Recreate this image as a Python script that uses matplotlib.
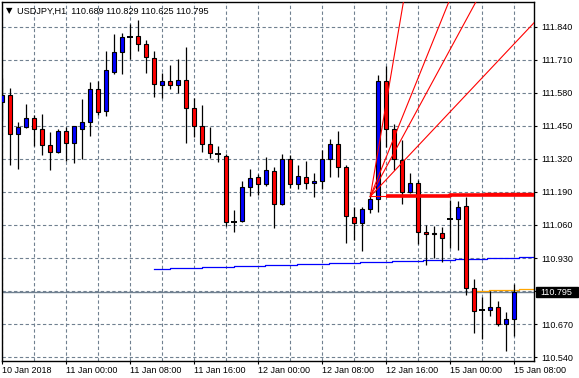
import matplotlib
matplotlib.use('Agg')
import matplotlib.pyplot as plt
import matplotlib.transforms as mtransforms
from matplotlib.patches import Rectangle

plt.rcParams['font.family'] = ['Liberation Sans', 'DejaVu Sans']

symbol = "USDJPY,H1"

opens = [111.543, 111.571, 111.417, 111.444, 111.480, 111.436, 111.373, 111.348, 111.428, 111.384,
         111.439, 111.464, 111.595, 111.510, 111.663, 111.739, 111.801, 111.803, 111.771, 111.716,
         111.609, 111.625, 111.609, 111.630, 111.519, 111.450, 111.377, 111.339, 111.332, 111.073,
         111.077, 111.208, 111.249, 111.220, 111.272, 111.141, 111.318, 111.220, 111.247, 111.224,
         111.232, 111.318, 111.377, 111.287, 111.090, 111.069, 111.121, 111.161, 111.628, 111.436,
         111.315, 111.191, 111.226, 111.033, 111.029, 111.028, 111.082, 111.085, 111.134, 110.811,
         110.725, 110.724, 110.736, 110.669, 110.689]
highs = [111.639, 111.600, 111.464, 111.536, 111.493, 111.496, 111.427, 111.437, 111.447, 111.450,
         111.556, 111.621, 111.626, 111.744, 111.811, 111.814, 111.849, 111.866, 111.788, 111.744,
         111.657, 111.689, 111.712, 111.759, 111.558, 111.532, 111.447, 111.371, 111.339, 111.119,
         111.234, 111.280, 111.260, 111.326, 111.287, 111.338, 111.335, 111.295, 111.312, 111.263,
         111.355, 111.398, 111.430, 111.295, 111.132, 111.132, 111.191, 111.650, 111.685, 111.456,
         111.394, 111.263, 111.237, 111.060, 111.056, 111.053, 111.158, 111.155, 111.170, 110.847,
         110.778, 110.800, 110.761, 110.719, 110.829]
lows = [111.469, 111.296, 111.280, 111.440, 111.371, 111.335, 111.276, 111.342, 111.313, 111.305,
        111.318, 111.411, 111.493, 111.490, 111.655, 111.655, 111.712, 111.746, 111.659, 111.565,
        111.561, 111.594, 111.578, 111.384, 111.405, 111.348, 111.325, 111.309, 111.057, 111.033,
        111.070, 111.175, 111.178, 111.213, 111.049, 111.138, 111.206, 111.200, 111.200, 111.169,
        111.201, 111.250, 111.247, 110.988, 111.001, 110.959, 111.106, 111.110, 111.365, 111.276,
        111.142, 111.184, 110.985, 110.902, 110.929, 110.915, 110.969, 110.961, 110.785, 110.636,
        110.610, 110.703, 110.663, 110.564, 110.625]
closes = [111.571, 111.417, 111.444, 111.480, 111.436, 111.373, 111.348, 111.428, 111.384, 111.448,
          111.464, 111.595, 111.506, 111.670, 111.739, 111.798, 111.801, 111.771, 111.720, 111.613,
          111.625, 111.609, 111.630, 111.521, 111.450, 111.377, 111.342, 111.339, 111.073, 111.073,
          111.208, 111.245, 111.220, 111.276, 111.141, 111.318, 111.220, 111.251, 111.224, 111.232,
          111.318, 111.377, 111.287, 111.095, 111.069, 111.121, 111.162, 111.628, 111.436, 111.318,
          111.191, 111.224, 111.031, 111.025, 111.023, 111.010, 111.082, 111.129, 110.811, 110.723,
          110.725, 110.736, 110.669, 110.689, 110.795]

x_tick_bars = [0, 8, 16, 24, 32, 40, 48, 56, 64]
x_tick_labels = ['10 Jan 2018', '11 Jan 00:00', '11 Jan 08:00', '11 Jan 16:00', '12 Jan 00:00',
                 '12 Jan 08:00', '12 Jan 16:00', '15 Jan 00:00', '15 Jan 08:00']
y_ticks = [110.540, 110.670, 110.800, 110.930, 111.060, 111.190, 111.320, 111.450, 111.580, 111.710, 111.840]
bid = 110.795

# indicator lines
ma_blue_start = [19, 21, 25, 29, 32.9, 36.9, 40.9, 44.8, 48.8, 52.6, 56.6, 60.6, 64.6]
ma_blue_levels = [110.885, 110.889, 110.893, 110.897, 110.901, 110.905, 110.909, 110.913,
                  110.917, 110.921, 110.925, 110.929, 110.933]
ma_orange_start = [59, 60.9, 64.6]
ma_orange_levels = [110.801, 110.805, 110.809]
level_red_start = [48, 56]
level_red_values = [111.173, 111.177]
level_red2_start = 60.4
level_red2_value = 111.185
fan_origin_bar = 46.04
fan_origin_price = 111.172
fan_slopes = [0.185, 0.078, 0.058, 0.0334]

W, H = 579, 378
fig = plt.figure(figsize=(W / 100, H / 100), dpi=100)
ax = fig.add_axes([1.5 / W, 17.3 / H, 532.8 / W, 358.4 / H])
XMIN, XMAX = -0.06, 66.54
ax.set_xlim(XMIN, XMAX)
ax.set_ylim(110.526, 111.936)

grid_col = '#708090'
for b in range(0, 65, 4):
    ax.axvline(b, color=grid_col, lw=0.8, dashes=(3, 2.2), zorder=0)
for yv in y_ticks:
    ax.axhline(yv, color=grid_col, lw=0.8, dashes=(3, 2.2), zorder=0)
ax.axhline(bid, color=grid_col, lw=1.0, zorder=0.5)

# indicators
ax.step(ma_blue_start + [XMAX], ma_blue_levels + [ma_blue_levels[-1]], where='post',
        color='#0000FF', lw=0.9, zorder=1)
ax.step(ma_orange_start + [XMAX], ma_orange_levels + [ma_orange_levels[-1]], where='post',
        color='#FFA500', lw=0.9, zorder=1)
ax.plot([fan_origin_bar, level_red_start[0]], [fan_origin_price, fan_origin_price], color='red', lw=0.8, zorder=4)
ax.step(level_red_start + [XMAX], level_red_values + [level_red_values[-1]], where='post',
        color='#FF0000', lw=2.6, zorder=4, solid_capstyle='butt')
ax.plot([level_red2_start, XMAX], [level_red2_value, level_red2_value], color='#FF0000', lw=1.0, zorder=4)

# candles
idx = list(range(len(opens)))
ax.vlines(idx, lows, highs, color='black', lw=0.9, zorder=2)
for i in idx:
    o, c = opens[i], closes[i]
    if abs(c - o) < 1e-9:
        ax.plot([i - 0.32, i + 0.32], [o, o], color='black', lw=1.4, zorder=3, solid_capstyle='butt')
        continue
    col = '#0000FF' if c > o else '#FF0000'
    ax.bar(i, c - o, bottom=o, width=0.56, color=col, edgecolor='black', linewidth=0.8, zorder=3)

# gann fan
for s in fan_slopes:
    ax.plot([fan_origin_bar, XMAX + 5], [fan_origin_price, fan_origin_price + s * (XMAX + 5 - fan_origin_bar)],
            color='#FF0000', lw=0.8, zorder=5)

# axes styling
for sp in ax.spines.values():
    sp.set_color('black')
    sp.set_linewidth(1.0)
ax.yaxis.tick_right()
ax.set_yticks(y_ticks)
ax.set_yticklabels(['' if abs(v - 110.800) < 1e-6 else f'{v:.3f}' for v in y_ticks])
ax.tick_params(axis='y', direction='out', length=2.5, width=0.8, pad=2.3, labelsize=6.5, colors='black')
ax.set_xticks(x_tick_bars)
ax.set_xticklabels(x_tick_labels)
ax.tick_params(axis='x', direction='out', length=2.5, width=0.8, pad=1.0, labelsize=6.5, colors='black')
for lab in ax.get_xticklabels():
    lab.set_horizontalalignment('left')

# bid label box
trans = mtransforms.blended_transform_factory(ax.transAxes, ax.transData)
ax.add_patch(Rectangle((1.0032, bid - 0.0191), 0.0789, 0.0382, transform=trans, color='black',
                       clip_on=False, zorder=10))
ax.text(1.0115, bid, f'{bid:.3f}', transform=trans, color='white', fontsize=6.5, va='center', ha='left',
        zorder=11, clip_on=False)

# title
fig.text(5.5 / W, 1 - 10.8 / H, '\u25bc', fontsize=6, family='DejaVu Sans', va='center', ha='left')
fig.text(17.3 / W, 1 - 11 / H,
         f'{symbol}  {opens[-1]:.3f} {highs[-1]:.3f} {lows[-1]:.3f} {closes[-1]:.3f}',
         fontsize=6.6, va='center', ha='left', color='black')

fig.savefig('out.png', dpi=100)
